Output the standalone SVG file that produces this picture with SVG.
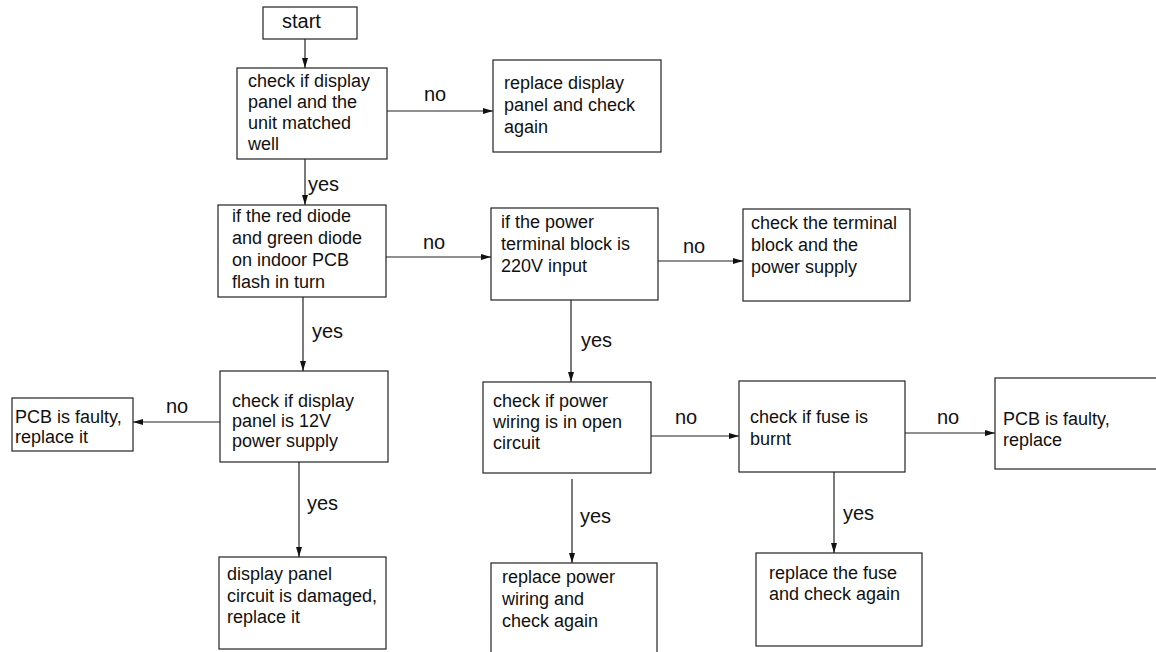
<svg xmlns="http://www.w3.org/2000/svg" width="1156" height="652" viewBox="0 0 1156 652">
<defs>
<marker id="ah" viewBox="0 0 10 6" refX="10" refY="3" markerWidth="10" markerHeight="6" markerUnits="userSpaceOnUse" orient="auto">
<path d="M0,0 L10,3 L0,6 Z" fill="#111"/>
</marker>
<style>
.box{fill:#fff;stroke:#222;stroke-width:1.2}
.t{font-family:"Liberation Sans",Arial,sans-serif;font-size:18px;fill:#111}
.lbl{font-family:"Liberation Sans",Arial,sans-serif;font-size:20px;fill:#111}
.st{font-family:"Liberation Sans",Arial,sans-serif;font-size:20px;fill:#111}
.c{stroke:#222;stroke-width:1.2;fill:none;marker-end:url(#ah)}
</style>
</defs>
<rect width="1156" height="652" fill="#fff"/>
<g id="connectors">
<line class="c" x1="305" y1="39" x2="305" y2="68"/>
<line class="c" x1="387" y1="111" x2="493" y2="111"/>
<line class="c" x1="305" y1="159" x2="305" y2="205"/>
<line class="c" x1="386" y1="257" x2="491" y2="257"/>
<line class="c" x1="658" y1="261" x2="743" y2="261"/>
<line class="c" x1="303" y1="297" x2="303" y2="371"/>
<line class="c" x1="571" y1="300" x2="571" y2="382"/>
<line class="c" x1="220" y1="422" x2="133" y2="422"/>
<line class="c" x1="651" y1="436" x2="739" y2="436"/>
<line class="c" x1="905" y1="433" x2="995" y2="433"/>
<line class="c" x1="299" y1="462" x2="299" y2="557"/>
<line class="c" x1="572" y1="479" x2="572" y2="563"/>
<line class="c" x1="834" y1="472" x2="834" y2="553"/>
<text class="lbl" x="424" y="101">no</text>
<text class="lbl" x="308" y="191">yes</text>
<text class="lbl" x="423" y="249">no</text>
<text class="lbl" x="683" y="253">no</text>
<text class="lbl" x="312" y="338">yes</text>
<text class="lbl" x="581" y="347">yes</text>
<text class="lbl" x="166" y="413">no</text>
<text class="lbl" x="675" y="424">no</text>
<text class="lbl" x="937" y="424">no</text>
<text class="lbl" x="307" y="510">yes</text>
<text class="lbl" x="580" y="523">yes</text>
<text class="lbl" x="843" y="520">yes</text>
</g>
<g id="start">
<rect class="box" x="263" y="7" width="94" height="32"/>
<text class="st" x="282" y="28">start</text>
</g>
<g id="check-match">
<rect class="box" x="237" y="68" width="150" height="91"/>
<text class="t"><tspan x="248" y="87">check if display</tspan><tspan x="248" y="108">panel and the</tspan><tspan x="248" y="129">unit matched</tspan><tspan x="248" y="150">well</tspan></text>
</g>
<g id="replace-display">
<rect class="box" x="493" y="60" width="168" height="92"/>
<text class="t"><tspan x="504" y="89">replace display</tspan><tspan x="504" y="111">panel and check</tspan><tspan x="504" y="133">again</tspan></text>
</g>
<g id="diode-flash">
<rect class="box" x="218" y="205" width="168" height="92"/>
<text class="t"><tspan x="232" y="222">if the red diode</tspan><tspan x="232" y="244">and green diode</tspan><tspan x="232" y="266">on indoor PCB</tspan><tspan x="232" y="288">flash in turn</tspan></text>
</g>
<g id="terminal-220v">
<rect class="box" x="491" y="208" width="167" height="92"/>
<text class="t"><tspan x="501" y="228">if the power</tspan><tspan x="501" y="250">terminal block is</tspan><tspan x="501" y="272">220V input</tspan></text>
</g>
<g id="check-terminal">
<rect class="box" x="743" y="209" width="167" height="92"/>
<text class="t"><tspan x="751" y="229">check the terminal</tspan><tspan x="751" y="251">block and the</tspan><tspan x="751" y="273">power supply</tspan></text>
</g>
<g id="panel-12v">
<rect class="box" x="220" y="371" width="168" height="91"/>
<text class="t"><tspan x="232" y="407">check if display</tspan><tspan x="232" y="427">panel is 12V</tspan><tspan x="232" y="447">power supply</tspan></text>
</g>
<g id="pcb-faulty-1">
<rect class="box" x="12" y="398" width="121" height="53"/>
<text class="t"><tspan x="15" y="423">PCB is faulty,</tspan><tspan x="15" y="443">replace it</tspan></text>
</g>
<g id="wiring-open">
<rect class="box" x="483" y="382" width="168" height="91"/>
<text class="t"><tspan x="493" y="407">check if power</tspan><tspan x="493" y="428">wiring is in open</tspan><tspan x="493" y="449">circuit</tspan></text>
</g>
<g id="fuse-burnt">
<rect class="box" x="739" y="381" width="166" height="91"/>
<text class="t"><tspan x="750" y="423">check if fuse is</tspan><tspan x="750" y="445">burnt</tspan></text>
</g>
<g id="pcb-faulty-2">
<rect class="box" x="995" y="378" width="175" height="91"/>
<text class="t"><tspan x="1003" y="425">PCB is faulty,</tspan><tspan x="1003" y="446">replace</tspan></text>
</g>
<g id="panel-damaged">
<rect class="box" x="219" y="557" width="167" height="92"/>
<text class="t"><tspan x="227" y="580">display panel</tspan><tspan x="227" y="602">circuit is damaged,</tspan><tspan x="227" y="623">replace it</tspan></text>
</g>
<g id="replace-wiring">
<rect class="box" x="491" y="563" width="166" height="100"/>
<text class="t"><tspan x="502" y="583">replace power</tspan><tspan x="502" y="605">wiring and</tspan><tspan x="502" y="627">check again</tspan></text>
</g>
<g id="replace-fuse">
<rect class="box" x="756" y="553" width="166" height="93"/>
<text class="t"><tspan x="769" y="579">replace the fuse</tspan><tspan x="769" y="600">and check again</tspan></text>
</g>
</svg>
